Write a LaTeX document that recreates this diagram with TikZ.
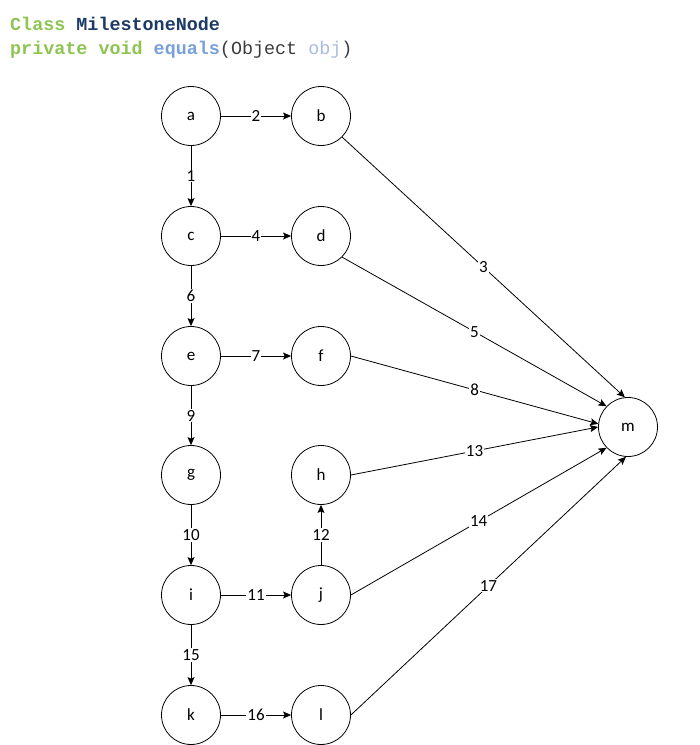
\documentclass[tikz,border=0pt]{standalone}
\usepackage{fontspec}
\setmainfont{Carlito}
\newfontfamily\codefont{Liberation Mono}
\usetikzlibrary{arrows.meta}
\definecolor{kwgreen}{RGB}{141,196,82}
\definecolor{clsblue}{RGB}{28,58,100}
\definecolor{fnblue}{RGB}{120,160,220}
\definecolor{txtgray}{RGB}{60,60,60}
\definecolor{objblue}{RGB}{170,188,222}
\tikzset{
  vtx/.style={circle, draw, line width=0.8pt, minimum size=59pt, inner sep=0pt,
    font=\fontsize{17}{20}\selectfont},
  arr/.style={draw, line width=0.8pt, -{Stealth[length=8pt,width=7pt,inset=1.5pt]}},
  lbl/.style={fill=white, inner sep=1pt, font=\fontsize{17}{20}\selectfont},
  code/.style={anchor=base west, inner sep=0pt, font=\codefont\fontsize{18.4}{22}\selectfont}
}
\begin{document}
\begin{tikzpicture}[x=1pt,y=-1pt]
\useasboundingbox (0,0) rectangle (700,745);
\node[code] (h1) at (10,30) {\textbf{\textcolor{kwgreen}{Class} \textcolor{clsblue}{MilestoneNode}}};
\node[code] (h2) at (10,54) {\textbf{\textcolor{kwgreen}{private void} \textcolor{fnblue}{equals}}\textcolor{txtgray}{(Object }\textcolor{objblue}{obj}\textcolor{txtgray}{)}};

\node[vtx] (a) at (191,116) {a};
\node[vtx] (b) at (321,116) {b};
\node[vtx] (c) at (191,236) {c};
\node[vtx] (d) at (321,236) {d};
\node[vtx] (e) at (191,356) {e};
\node[vtx] (f) at (321,356) {f};
\node[vtx] (g) at (191,475) {g};
\node[vtx] (h) at (321,475) {h};
\node[vtx] (i) at (191,595) {i};
\node[vtx] (j) at (321,595) {j};
\node[vtx] (k) at (191,715) {k};
\node[vtx] (l) at (321,715) {l};
\node[vtx] (m) at (628,427) {m};

\draw[arr] (a) -- node[lbl]{2} (b);
\draw[arr] (a) -- node[lbl]{1} (c);
\draw[arr] (c) -- node[lbl]{4} (d);
\draw[arr] (c) -- node[lbl]{6} (e);
\draw[arr] (e) -- node[lbl]{7} (f);
\draw[arr] (e) -- node[lbl]{9} (g);
\draw[arr] (g) -- node[lbl]{10} (i);
\draw[arr] (i) -- node[lbl]{11} (j);
\draw[arr] (j) -- node[lbl]{12} (h);
\draw[arr] (i) -- node[lbl]{15} (k);
\draw[arr] (k) -- node[lbl]{16} (l);

\draw[arr] (b.-45) -- node[lbl]{3} (m.96);
\draw[arr] (d.-45) -- node[lbl]{5} (m.136);
\draw[arr] (f.east) -- node[lbl]{8} (m.174);
\draw[arr] (h.east) -- node[lbl]{13} (m.180);
\draw[arr] (j.east) -- node[lbl]{14} (m.224);
\draw[arr] (l.east) -- node[lbl]{17} (m.266);
\end{tikzpicture}
\end{document}
